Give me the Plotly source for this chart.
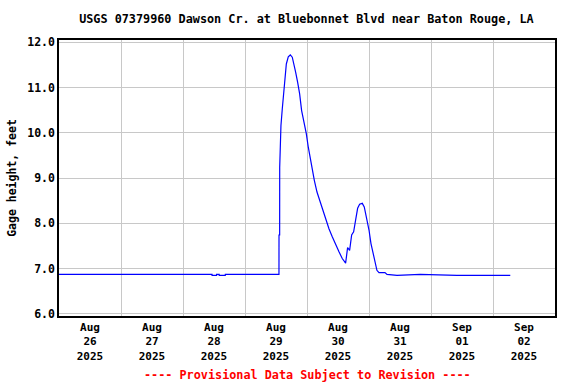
import plotly.graph_objects as go

# Gage height data (feet)
times = [
    "2025-08-26 00:00", "2025-08-28 11:14", "2025-08-28 11:15", "2025-08-28 13:00",
    "2025-08-28 13:01", "2025-08-28 14:00", "2025-08-28 14:01", "2025-08-28 16:22",
    "2025-08-28 16:23", "2025-08-29 13:09", "2025-08-29 13:10", "2025-08-29 13:25",
    "2025-08-29 13:26", "2025-08-29 13:55", "2025-08-29 14:26", "2025-08-29 14:57",
    "2025-08-29 15:28", "2025-08-29 16:00", "2025-08-29 16:45", "2025-08-29 17:32",
    "2025-08-29 18:18", "2025-08-29 19:05", "2025-08-29 19:36", "2025-08-29 20:22",
    "2025-08-29 21:09", "2025-08-29 21:55", "2025-08-29 22:57", "2025-08-29 23:44",
    "2025-08-30 00:30", "2025-08-30 01:16", "2025-08-30 02:03", "2025-08-30 02:50",
    "2025-08-30 03:52", "2025-08-30 04:54", "2025-08-30 05:56", "2025-08-30 07:12",
    "2025-08-30 08:30", "2025-08-30 09:47", "2025-08-30 11:05", "2025-08-30 12:23",
    "2025-08-30 13:39", "2025-08-30 14:57", "2025-08-30 15:43", "2025-08-30 16:30",
    "2025-08-30 17:17", "2025-08-30 18:03", "2025-08-30 18:49", "2025-08-30 19:36",
    "2025-08-30 20:22", "2025-08-30 21:24", "2025-08-30 22:10", "2025-08-30 23:12",
    "2025-08-31 00:00", "2025-08-31 00:46", "2025-08-31 01:32", "2025-08-31 02:18",
    "2025-08-31 03:04", "2025-08-31 03:52", "2025-08-31 06:11", "2025-08-31 06:58",
    "2025-08-31 10:50", "2025-08-31 19:51", "2025-09-01 10:03", "2025-09-02 06:41",
]
gage_ft = [
    6.87, 6.87, 6.85, 6.85,
    6.87, 6.87, 6.85, 6.85,
    6.87, 6.87, 7.74, 7.74,
    9.24, 10.16, 10.53, 10.86,
    11.30, 11.52, 11.68, 11.72,
    11.67, 11.49, 11.34, 11.12,
    10.86, 10.49, 10.20, 9.98,
    9.68, 9.43, 9.17, 8.95,
    8.69, 8.51, 8.29, 8.10,
    7.88, 7.70, 7.52, 7.37,
    7.22, 7.12, 7.46, 7.40,
    7.74, 7.81, 8.07, 8.33,
    8.42, 8.44, 8.36, 8.07,
    7.85, 7.55, 7.33, 7.11,
    6.96, 6.91, 6.91, 6.87,
    6.85, 6.87, 6.85, 6.85,
]

tick_vals = ["2025-08-26 12:00", "2025-08-27 12:00", "2025-08-28 12:00", "2025-08-29 12:00",
             "2025-08-30 12:00", "2025-08-31 12:00", "2025-09-01 12:00", "2025-09-02 12:00"]
tick_text = ["Aug<br>26<br>2025", "Aug<br>27<br>2025", "Aug<br>28<br>2025", "Aug<br>29<br>2025",
             "Aug<br>30<br>2025", "Aug<br>31<br>2025", "Sep<br>01<br>2025", "Sep<br>02<br>2025"]
y_ticks = [6, 7, 8, 9, 10, 11, 12]
y_tick_text = ["6.0", "7.0", "8.0", "9.0", "10.0", "11.0", "12.0"]

FONT = "DejaVu Sans Mono"

fig = go.Figure()
fig.add_trace(go.Scatter(
    x=times, y=gage_ft, mode="lines",
    line=dict(color="#0000ff", width=1.2),
    showlegend=False, hoverinfo="x+y",
))

fig.update_layout(
    width=576, height=384,
    margin=dict(l=59, r=21, t=40, b=68),
    paper_bgcolor="white", plot_bgcolor="white",
    font=dict(family=FONT, color="black", size=12, weight="bold"),
    title=dict(
        text="USGS 07379960 Dawson Cr. at Bluebonnet Blvd near Baton Rouge, LA",
        x=0.532, xanchor="center", y=0.95, yanchor="middle",
        font=dict(family=FONT, size=11.8, color="black", weight="bold"),
    ),
    xaxis=dict(
        type="date",
        range=["2025-08-26 00:00", "2025-09-03 00:00"],
        tickmode="array", tickvals=tick_vals, ticktext=tick_text,
        showgrid=False, ticks="", zeroline=False,
        tickfont=dict(family=FONT, size=11, color="black", weight="bold"),
        showline=True, linecolor="black", linewidth=1.5, mirror=True,
        minor=dict(tick0="2025-08-26", dtick=86400000, showgrid=True,
                   gridcolor="#c8c8c8", gridwidth=1, ticks=""),
    ),
    yaxis=dict(
        range=[5.95, 12.05],
        tickmode="array", tickvals=y_ticks, ticktext=y_tick_text,
        showgrid=True, gridcolor="#c8c8c8", gridwidth=1, ticks="",
        zeroline=False,
        tickfont=dict(family=FONT, size=11.5, color="black", weight="bold"),
        showline=True, linecolor="black", linewidth=1.5, mirror=True,
        title=dict(text="Gage height, feet", standoff=8,
                   font=dict(family=FONT, size=11.5, color="black", weight="bold")),
    ),
    annotations=[dict(
        text="---- Provisional Data Subject to Revision ----",
        xref="paper", yref="paper", x=0.5, y=-0.215, xanchor="center", yanchor="middle",
        showarrow=False,
        font=dict(family=FONT, size=11.8, color="#ff0000", weight="bold"),
    )],
)

fig.write_html("out.html", config={"displayModeBar": False},
               post_script="document.body.style.margin='0';document.body.style.overflow='hidden';")
